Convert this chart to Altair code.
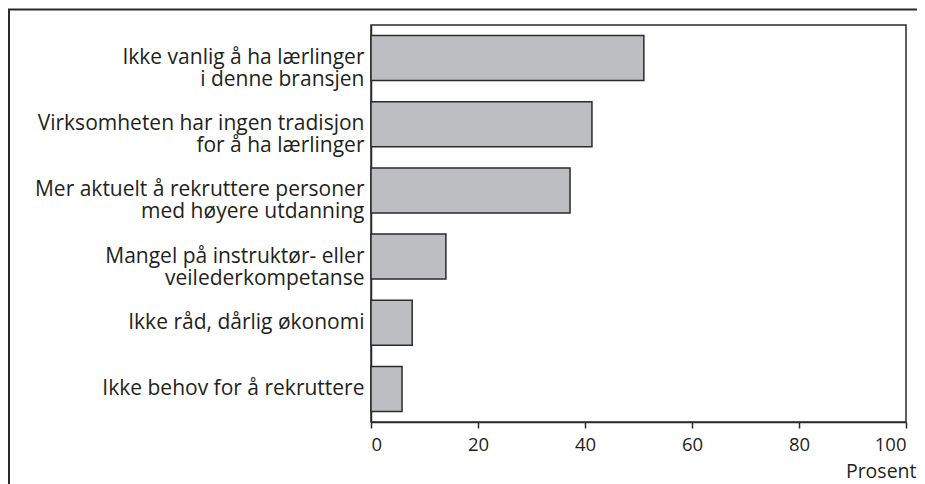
import altair as alt
import pandas as pd

categories = [
    "Ikke vanlig å ha lærlinger\ni denne bransjen",
    "Virksomheten har ingen tradisjon\nfor å ha lærlinger",
    "Mer aktuelt å rekruttere personer\nmed høyere utdanning",
    "Mangel på instruktør- eller\nveilederkompetanse",
    "Ikke råd, dårlig økonomi",
    "Ikke behov for å rekruttere",
]
values = [51.0, 41.3, 37.2, 14.0, 7.7, 5.8]
x_ticks = [0, 20, 40, 60, 80, 100]

df = pd.DataFrame({"kategori": categories, "prosent": values})

FONT = "Open Sans"
INK = "#231f20"

W, H = 535, 397
PAD_L, PAD_T, PAD_R, PAD_B = 363, 17, 11, 62

bars = alt.Chart(df).mark_bar(
    fill="#bdbec1", stroke="#2b2b2b", strokeWidth=1.5
).encode(
    x=alt.X(
        "prosent:Q",
        scale=alt.Scale(domain=[0, 100], nice=False, zero=True),
        axis=alt.Axis(
            values=x_ticks,
            title="Prosent",
            grid=False,
            tickSize=6,
            labelPadding=7,
            labelFontSize=18.5,
            titleFontSize=19.5,
            titleAnchor="end",
            titleAlign="right",
            titleX=W + 10,
            titleY=55,
            titleBaseline="alphabetic",
        ),
    ),
    y=alt.Y(
        "kategori:N",
        sort=categories,
        scale=alt.Scale(paddingInner=0.32, paddingOuter=0.16),
        axis=alt.Axis(
            title=None,
            ticks=False,
            labelPadding=7,
            labelLimit=400,
            labelFontSize=21,
            labelLineHeight=22,
            labelExpr="split(datum.label, '\\n')",
        ),
    ),
)

frame = alt.Chart(pd.DataFrame({"f": [0]})).mark_rect(
    fill=None, stroke="#2b2b2b", strokeWidth=2
).encode(
    x=alt.value(-362),
    x2=alt.value(W + 40),
    y=alt.value(-15.5),
    y2=alt.value(H + 120),
)

chart = alt.layer(frame, bars).properties(
    width=W,
    height=H,
    background="white",
    autosize=alt.AutoSizeParams(type="none"),
    padding={"left": PAD_L, "top": PAD_T, "right": PAD_R, "bottom": PAD_B},
).configure_view(
    stroke="#2b2b2b", strokeWidth=1.5
).configure_axis(
    labelFont=FONT,
    titleFont=FONT,
    labelColor=INK,
    titleColor=INK,
    titleFontWeight="normal",
    domainColor="#2b2b2b",
    domainWidth=1.5,
    tickColor="#2b2b2b",
    tickWidth=1.5,
)

chart.save("out.html", embed_options={"renderer": "svg", "actions": False})
